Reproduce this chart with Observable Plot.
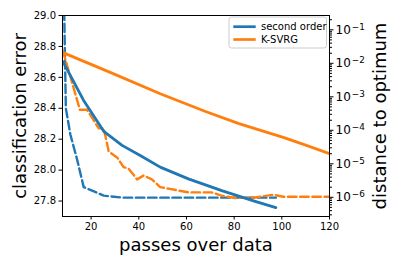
<!DOCTYPE html>
<html><head><meta charset="utf-8">
<script src="https://cdn.jsdelivr.net/npm/d3@7"></script>
<script src="https://cdn.jsdelivr.net/npm/@observablehq/plot@0.6"></script>
<style>body{margin:0;background:#fff}</style>
</head><body><div id="chart"></div>
<script>
const seriesNames = ["second order", "K-SVRG"];
const seriesColors = ["#1f77b4", "#ff7f0e"];

// distance to optimum (log10 of value), solid lines, right log axis
const secondOrderDistX = [8.2, 16.8, 25.3, 33.0, 40.6, 49.0, 60.8, 74.8, 88.8, 97.5];
const secondOrderDistLog = [-1.95, -3.10, -4.03, -4.45, -4.75, -5.10, -5.45, -5.80, -6.12, -6.31];
const ksvrgDistX = [8.2, 28, 49, 68, 82, 100.6, 110.3, 119.7];
const ksvrgDistLog = [-1.68, -2.27, -2.91, -3.44, -3.80, -4.21, -4.45, -4.69];

// classification error, dashed lines, left axis
const secondOrderErrX = [8.2, 8.8, 9.4, 11.3, 14.1, 16.9, 25.3, 33.0, 97.5];
const secondOrderErrY = [29.5, 28.95, 28.40, 28.23, 28.07, 27.89, 27.835, 27.822, 27.822];
const ksvrgErrX = [8.2, 15.3, 18.3, 23.2, 25.3, 27.4, 31, 33.6, 35.7, 39.3, 42, 45.5, 49, 52.5, 60.8, 70.6, 74.8, 80.4, 88.8, 96.4, 100.6, 120];
const ksvrgErrY = [28.77, 28.39, 28.39, 28.27, 28.27, 28.12, 28.08, 28.02, 28.01, 27.94, 27.965, 27.94, 27.89, 27.88, 27.856, 27.856, 27.834, 27.82, 27.823, 27.841, 27.828, 27.828];

// axes
const xTicks = [20, 40, 60, 80, 100, 120];
const leftTicks = [27.8, 28.0, 28.2, 28.4, 28.6, 28.8, 29.0];
const rightTickExps = [-1, -2, -3, -4, -5, -6];
const leftDomain = [27.7, 29.0];
const rightLogDomain = [-6.573, -0.573];
const xDomain = [8, 120];

// map log10 distance onto the left scale (twin axis)
const toLeft = L => leftDomain[0] + (L - rightLogDomain[0]) / (rightLogDomain[1] - rightLogDomain[0]) * (leftDomain[1] - leftDomain[0]);

const rows = [];
secondOrderDistX.forEach((x, i) => rows.push({kind: "dist", series: seriesNames[0], x, y: toLeft(secondOrderDistLog[i])}));
ksvrgDistX.forEach((x, i) => rows.push({kind: "dist", series: seriesNames[1], x, y: toLeft(ksvrgDistLog[i])}));
secondOrderErrX.forEach((x, i) => rows.push({kind: "err", series: seriesNames[0], x, y: secondOrderErrY[i]}));
ksvrgErrX.forEach((x, i) => rows.push({kind: "err", series: seriesNames[1], x, y: ksvrgErrY[i]}));

const minorTicks = [];
for (let k = -7; k <= -1; k++) for (let m = 2; m <= 9; m++) {
  const L = k + Math.log10(m);
  if (L > rightLogDomain[0] && L < rightLogDomain[1]) minorTicks.push(toLeft(L));
}

// right-axis labels 10^k with real superscripts, positioned by the y scale
const rightLabels = (index, scales, values, dim) => {
  const g = d3.create("svg:g").attr("font-family", "DejaVu Sans").attr("fill", "#000");
  const x0 = dim.width - dim.marginRight + 6.5;
  rightTickExps.forEach(k => {
    const yy = scales.y(toLeft(k));
    const t = g.append("text").attr("x", x0).attr("y", yy).attr("dy", "0.36em")
      .attr("text-anchor", "start").attr("font-size", 12);
    t.append("tspan").text("10");
    t.append("tspan").attr("dx", 1).attr("dy", "-0.45em").attr("font-size", 8.8).text("\u2212" + Math.abs(k));
  });
  return g.node();
};

const legend = (index, scales, values, dim) => {
  const g = d3.create("svg:g").attr("font-family", "DejaVu Sans");
  const x0 = dim.width - dim.marginRight - 100, y0 = dim.marginTop + 2;
  g.append("rect").attr("x", x0).attr("y", y0).attr("width", 97.5).attr("height", 31)
    .attr("rx", 2.5).attr("fill", "white").attr("fill-opacity", 0.8).attr("stroke", "#cccccc");
  seriesNames.forEach((name, i) => {
    const yy = y0 + 9.7 + i * 12.8;
    g.append("line").attr("x1", x0 + 4.3).attr("x2", x0 + 26.7).attr("y1", yy).attr("y2", yy)
      .attr("stroke", seriesColors[i]).attr("stroke-width", 2.7);
    g.append("text").attr("x", x0 + 32).attr("y", yy).attr("dy", "0.35em")
      .attr("text-anchor", "start").attr("font-size", 10).attr("fill", "#000").text(name);
  });
  return g.node();
};

const chart = Plot.plot({
  width: 399,
  height: 266,
  marginLeft: 62,
  marginRight: 70,
  marginTop: 15,
  marginBottom: 50,
  style: {fontFamily: "DejaVu Sans", fontSize: "10px", color: "#000", background: "#fff"},
  x: {domain: xDomain},
  y: {domain: leftDomain},
  color: {domain: seriesNames, range: seriesColors},
  marks: [
    Plot.line(rows.filter(d => d.kind === "err"), {x: "x", y: "y", z: "series", stroke: "series", strokeWidth: 2.4, strokeDasharray: "8.5,3.7", clip: true}),
    Plot.line(rows.filter(d => d.kind === "dist"), {x: "x", y: "y", z: "series", stroke: "series", strokeWidth: 2.8, clip: true}),
    Plot.frame({stroke: "#000", strokeWidth: 1}),
    Plot.axisX(xTicks, {anchor: "bottom", tickSize: 3.5, tickPadding: 3, label: null, fontSize: 10}),
    Plot.axisY(leftTicks, {anchor: "left", tickSize: 3.5, tickPadding: 3, tickFormat: d => d.toFixed(1), label: null, fontSize: 10}),
    Plot.axisY(rightTickExps.map(toLeft), {anchor: "right", tickSize: 3.5, tickFormat: () => "", label: null}),
    Plot.axisY(minorTicks, {anchor: "right", tickSize: 2, tickFormat: () => "", label: null}),
    rightLabels,
    Plot.text(["passes over data"], {text: d => d, frameAnchor: "bottom", dy: 29, textAnchor: "middle", lineAnchor: "middle", fontSize: 18}),
    Plot.text(["classification error"], {text: d => d, frameAnchor: "left", dx: -42, rotate: -90, textAnchor: "middle", lineAnchor: "middle", fontSize: 18}),
    Plot.text(["distance to optimum"], {text: d => d, frameAnchor: "right", dx: 51, rotate: -90, textAnchor: "middle", lineAnchor: "middle", fontSize: 18}),
    legend
  ]
});
document.getElementById("chart").appendChild(chart);
</script>
</body></html>
